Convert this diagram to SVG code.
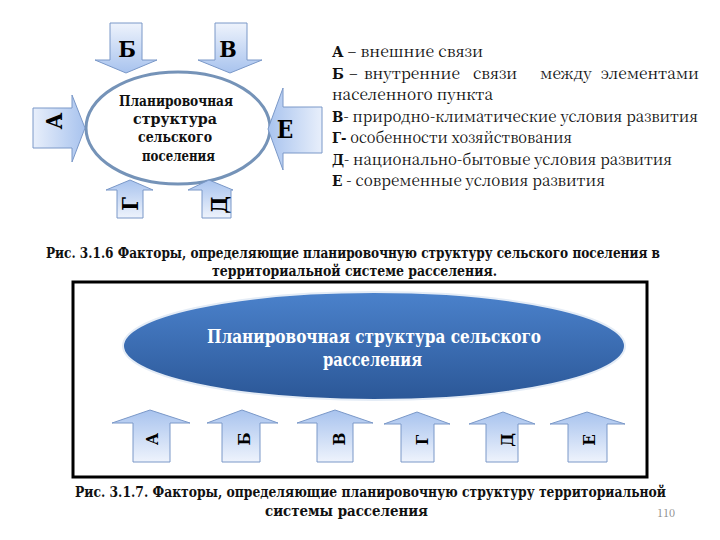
<svg xmlns="http://www.w3.org/2000/svg" width="720" height="540" viewBox="0 0 720 540">
<defs>
<linearGradient id="gDown" x1="0" y1="0" x2="0" y2="1"><stop offset="0" stop-color="#eef3fc"/><stop offset="1" stop-color="#a8c3ee"/></linearGradient>
<linearGradient id="gUp" x1="0" y1="0" x2="0" y2="1"><stop offset="0" stop-color="#a8c3ee"/><stop offset="1" stop-color="#eef3fc"/></linearGradient>
<linearGradient id="gRight" x1="0" y1="0" x2="1" y2="0"><stop offset="0" stop-color="#e8effb"/><stop offset="1" stop-color="#a8c3ee"/></linearGradient>
<linearGradient id="gLeft" x1="1" y1="0" x2="0" y2="0"><stop offset="0" stop-color="#e8effb"/><stop offset="1" stop-color="#a8c3ee"/></linearGradient>
<linearGradient id="gBlue" x1="0" y1="0" x2="0" y2="1"><stop offset="0" stop-color="#4b82cc"/><stop offset="1" stop-color="#2b5797"/></linearGradient>
<style>
.arr{stroke:#7a98c8;stroke-width:1}
.cond{font-family:'DejaVu Serif Condensed','DejaVu Serif',serif}
.reg{font-family:'Noto Serif CJK SC','Noto Serif CJK JP',serif}
.b{font-family:'DejaVu Serif Condensed','DejaVu Serif',serif;font-weight:bold}
.lbl{font-weight:bold;fill:#000;text-anchor:middle}
.leg{font-size:15.5px;fill:#111}
.cap{font-weight:bold;font-size:14.5px;fill:#111}
.in{font-weight:bold;font-size:14px;fill:#111}
</style>
</defs>
<rect width="720" height="540" fill="#fff"/>

<g id="top-diagram" class="cond">
<g id="center1">
<ellipse cx="178" cy="128" rx="92" ry="56" fill="#fff" stroke="#7593b8" stroke-width="3"/>
<text class="in" x="119" y="106" textLength="114" lengthAdjust="spacingAndGlyphs">Планировочная</text>
<text class="in" x="133" y="124" textLength="84" lengthAdjust="spacingAndGlyphs">структура</text>
<text class="in" x="138" y="142" textLength="74" lengthAdjust="spacingAndGlyphs">сельского</text>
<text class="in" x="142" y="161" textLength="73" lengthAdjust="spacingAndGlyphs">поселения</text>
</g>
<g id="connectors1">
<g id="arrB1"><polygon class="arr" fill="url(#gDown)" points="110,23 142,23 142,60 157,60 126,73 95,60 110,60"/><text class="lbl" font-size="23" x="127" y="57">Б</text></g>
<g id="arrV1"><polygon class="arr" fill="url(#gDown)" points="215,23 247,23 247,60 262,60 230,73 198,60 215,60"/><text class="lbl" font-size="23" x="228" y="57">В</text></g>
<g id="arrA1"><polygon class="arr" fill="url(#gRight)" points="33,108 72,108 72,95 85,128 72,162 72,148 33,148"/><text class="lbl" font-size="23" transform="translate(62,121) rotate(-90)">А</text></g>
<g id="arrE1"><polygon class="arr" fill="url(#gLeft)" points="322,107 283,107 283,88 268,129 283,170 283,153 322,153"/><text class="lbl" font-size="24" x="285" y="138">Е</text></g>
<g id="arrG1"><polygon class="arr" fill="url(#gUp)" points="117,218 143,218 143,190 153,190 130,180 106,190 117,190"/><text class="lbl" font-size="22" transform="translate(138,204) rotate(-90)">Г</text></g>
<g id="arrD1"><polygon class="arr" fill="url(#gUp)" points="202,218 231,218 231,190 233,190 209,180 188,190 202,190"/><text class="lbl" font-size="22" transform="translate(227,205) rotate(-90)">Д</text></g>
</g>
</g>

<g id="legend" class="reg">
<text class="leg" x="332" y="57" textLength="151" lengthAdjust="spacingAndGlyphs"><tspan class="b">А</tspan> – внешние связи</text>
<text class="leg" y="79"><tspan class="b" x="332">Б</tspan><tspan x="349">–</tspan><tspan x="364">внутренние</tspan><tspan x="473">связи</tspan><tspan x="540">между</tspan></text>
<text class="leg" x="699" y="79" text-anchor="end">элементами</text>
<text class="leg" x="332" y="100" textLength="161" lengthAdjust="spacingAndGlyphs">населенного пункта</text>
<text class="leg" x="332" y="121.5" textLength="366" lengthAdjust="spacingAndGlyphs"><tspan class="b">В</tspan>- природно-климатические условия развития</text>
<text class="leg" x="332" y="143" textLength="240" lengthAdjust="spacingAndGlyphs"><tspan class="b">Г-</tspan> особенности хозяйствования</text>
<text class="leg" x="332" y="164.5" textLength="340" lengthAdjust="spacingAndGlyphs"><tspan class="b">Д</tspan>- национально-бытовые условия развития</text>
<text class="leg" x="332" y="186" textLength="273" lengthAdjust="spacingAndGlyphs"><tspan class="b">Е</tspan> - современные условия развития</text>
</g>

<g id="captions" class="cond">
<text class="cap" x="46" y="258" textLength="614" lengthAdjust="spacingAndGlyphs">Рис. 3.1.6 Факторы, определяющие планировочную структуру сельского поселения в</text>
<text class="cap" x="212" y="276" textLength="285" lengthAdjust="spacingAndGlyphs">территориальной системе расселения.</text>
<text class="cap" x="75" y="497" textLength="591" lengthAdjust="spacingAndGlyphs">Рис. 3.1.7. Факторы, определяющие планировочную структуру территориальной</text>
<text class="cap" x="265" y="516" textLength="163" lengthAdjust="spacingAndGlyphs">системы расселения</text>
<text class="reg" x="657" y="517" font-size="11" fill="#888">110</text>
</g>

<g id="bottom-diagram" class="cond">
<rect x="73" y="282" width="574" height="195" fill="#fff" stroke="#000" stroke-width="3"/>
<g id="center2">
<ellipse cx="374" cy="346" rx="251" ry="54" fill="url(#gBlue)" stroke="#e4ecf6" stroke-width="2"/>
<text x="207" y="343" font-weight="bold" font-size="18" fill="#fff" textLength="334" lengthAdjust="spacingAndGlyphs">Планировочная структура сельского</text>
<text x="323" y="366" font-weight="bold" font-size="18" fill="#fff" textLength="99" lengthAdjust="spacingAndGlyphs">расселения</text>
</g>
<g id="connectors2">
<g id="arrA2"><polygon class="arr" fill="url(#gUp)" points="133,462 170,462 170,423 190,423 150,410 112,423 133,423"/><text class="lbl" font-size="17" transform="translate(158,439) rotate(-90)">А</text></g>
<g id="arrB2"><polygon class="arr" fill="url(#gUp)" points="222,462 260,462 260,423 278,423 242,410 207,423 222,423"/><text class="lbl" font-size="17" transform="translate(250,439) rotate(-90)">Б</text></g>
<g id="arrV2"><polygon class="arr" fill="url(#gUp)" points="317,462 353,462 353,423 373,423 335,410 297,423 317,423"/><text class="lbl" font-size="17" transform="translate(345,439) rotate(-90)">В</text></g>
<g id="arrG2"><polygon class="arr" fill="url(#gUp)" points="401,462 434,462 434,424 450,424 417,412 384,424 401,424"/><text class="lbl" font-size="17" transform="translate(428,440) rotate(-90)">Г</text></g>
<g id="arrD2"><polygon class="arr" fill="url(#gUp)" points="486,462 518,462 518,424 535,424 503,412 469,424 486,424"/><text class="lbl" font-size="17" transform="translate(513,440) rotate(-90)">Д</text></g>
<g id="arrE2"><polygon class="arr" fill="url(#gUp)" points="568,462 607,462 607,424 625,424 587,412 550,424 568,424"/><text class="lbl" font-size="17" transform="translate(595,440) rotate(-90)">Е</text></g>
</g>
</g>
</svg>
